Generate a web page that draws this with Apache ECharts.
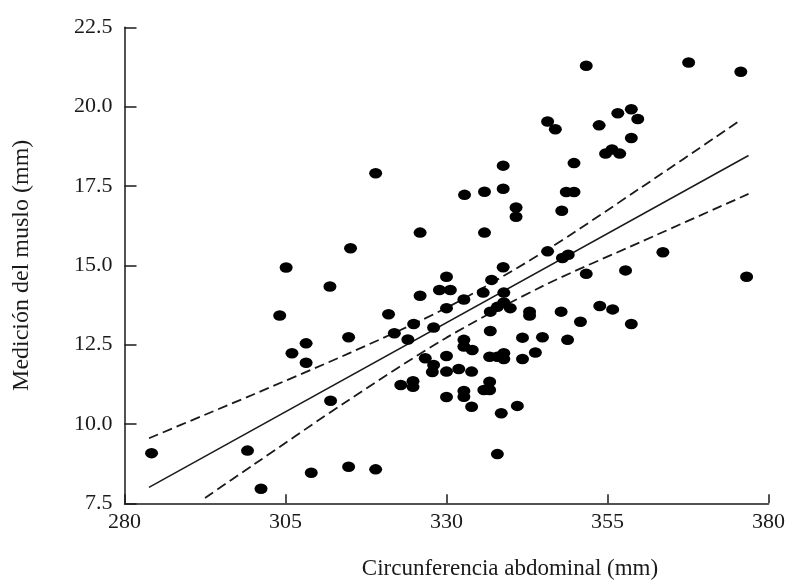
<!DOCTYPE html>
<html><head><meta charset="utf-8">
<script src="https://cdn.jsdelivr.net/npm/echarts@6/dist/echarts.min.js"></script>
<style>html,body{margin:0;padding:0;background:#fff}#c{width:792px;height:581px}</style>
</head><body><div id="c"></div>
<script>
// Circunferencia abdominal (mm)
const abdominal = [284.2,299.1,301.2,309.0,314.8,319.0,304.1,305.1,306.0,308.2,308.2,311.9,312.0,315.1,314.8,319.0,321.0,321.9,324.0,324.9,325.9,325.9,322.9,324.8,324.8,326.7,328.0,328.0,327.8,328.9,330.0,330.6,330.0,330.0,330.0,330.0,331.9,332.8,332.7,332.7,332.7,334.0,333.9,332.7,332.7,333.9,335.9,335.9,335.7,337.0,338.8,338.9,336.8,336.7,337.9,335.8,336.7,336.7,337.9,338.5,338.8,338.8,340.8,340.8,336.8,337.9,338.9,339.9,338.9,338.9,341.8,343.8,341.0,341.8,342.9,342.9,344.9,345.7,346.9,345.7,347.9,348.6,349.8,349.8,348.0,348.9,347.8,348.8,350.8,351.7,351.7,353.7,354.7,355.7,356.9,356.6,358.7,359.7,358.7,353.8,355.8,357.8,358.7,363.6,367.6,375.7,376.6];
// Medición del muslo (mm)
const muslo = [9.08,9.16,7.96,8.46,8.65,8.57,13.42,14.93,12.23,12.54,11.93,14.33,10.73,15.54,12.73,17.90,13.46,12.86,12.66,13.15,16.03,14.04,11.23,11.35,11.17,12.07,13.04,11.86,11.64,14.22,14.64,14.22,13.65,12.14,11.65,10.85,11.73,17.22,13.92,12.65,12.44,12.33,11.65,11.04,10.86,10.54,17.32,16.03,14.14,14.54,14.94,14.14,12.93,12.12,12.12,11.07,11.33,11.07,9.05,10.34,18.14,17.41,16.82,16.53,13.54,13.69,13.83,13.65,12.23,12.05,12.05,12.25,10.57,12.72,13.54,13.42,12.73,19.53,19.29,15.44,16.72,17.31,17.31,18.22,15.23,15.33,13.54,12.65,13.22,14.73,21.29,19.41,18.52,18.65,18.52,19.79,19.92,19.61,19.01,13.72,13.61,14.84,13.15,15.41,21.39,21.10,14.64];

// Recta de regresión y bandas
const fitX = [283.8, 376.9];
const fitY = [8.0, 18.46];
const upperX = [283.8, 292.5, 300, 315, 330, 345, 360, 375.7];
const upperY = [9.55, 10.29, 10.93, 12.24, 13.66, 15.41, 17.42, 19.58];
const lowerX = [292.5, 300, 315, 330, 345, 360, 376.9];
const lowerY = [7.67, 8.71, 10.78, 12.72, 14.35, 15.72, 17.25];

const xTicks = [280, 305, 330, 355, 380];
const yTicks = [7.5, 10.0, 12.5, 15.0, 17.5, 20.0, 22.5];

const zip = (a, b) => a.map((v, i) => [v, b[i]]);
const font = 'Liberation Serif';
const ink = '#1a1a1a';

const chart = echarts.init(document.getElementById('c'), null, {renderer: 'canvas'});
chart.setOption({
  animation: false,
  backgroundColor: '#fff',
  grid: {left: 124.5, top: 27.3, width: 644, height: 476, containLabel: false, outerBoundsMode: 'none'},
  xAxis: {
    type: 'value', min: 280, max: 380,
    name: 'Circunferencia abdominal (mm)', nameLocation: 'middle', nameGap: 54,
    nameTextStyle: {fontFamily: font, fontSize: 23, color: ink, padding: [0, 0, 0, 127]},
    axisLine: {show: true, lineStyle: {color: ink, width: 1.5}},
    axisTick: {show: true, inside: true, length: 9, customValues: xTicks, lineStyle: {color: ink, width: 1.5}},
    axisLabel: {customValues: xTicks, fontFamily: font, fontSize: 22, color: ink, margin: 8},
    splitLine: {show: false}
  },
  yAxis: {
    type: 'value', min: 7.5, max: 22.5,
    name: 'Medición del muslo (mm)', nameLocation: 'middle', nameGap: 91,
    nameTextStyle: {fontFamily: font, fontSize: 24, color: ink},
    axisLine: {show: true, lineStyle: {color: ink, width: 1.5}},
    axisTick: {show: true, inside: true, length: 12, customValues: yTicks, lineStyle: {color: ink, width: 1.5}},
    axisLabel: {customValues: yTicks, fontFamily: font, fontSize: 22, color: ink, margin: 12,
      formatter: v => Number(v).toFixed(1)},
    splitLine: {show: false}
  },
  series: [
    {type: 'scatter', data: zip(abdominal, muslo), symbol: 'circle', symbolSize: [13, 10.5],
     itemStyle: {color: '#000', opacity: 1}, z: 3},
    {type: 'line', data: zip(fitX, fitY), showSymbol: false, symbol: 'none',
     lineStyle: {color: ink, width: 1.5}, z: 2},
    {type: 'line', data: zip(upperX, upperY), showSymbol: false, symbol: 'none', smooth: 0.3,
     lineStyle: {color: ink, width: 1.8, type: [10, 5]}, z: 2},
    {type: 'line', data: zip(lowerX, lowerY), showSymbol: false, symbol: 'none', smooth: 0.3,
     lineStyle: {color: ink, width: 1.8, type: [10, 5]}, z: 2}
  ]
});
</script>
</body></html>
